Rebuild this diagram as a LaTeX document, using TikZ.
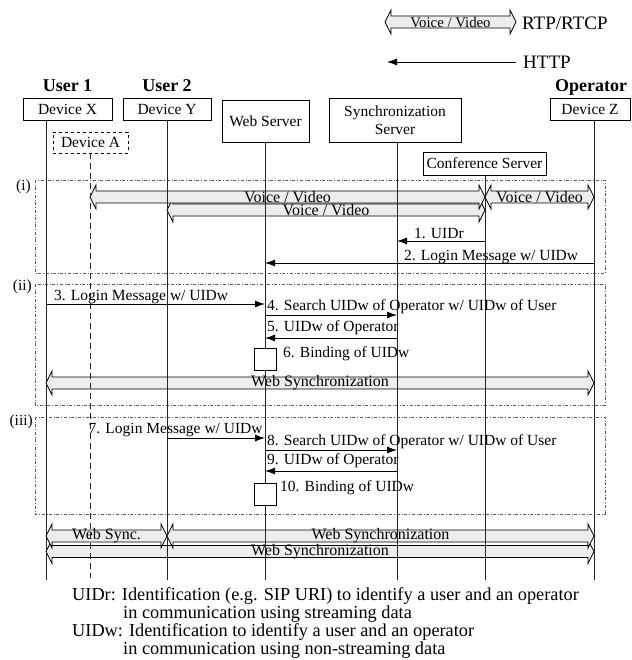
\documentclass[tikz,border=0pt]{standalone}
\usepackage{fontspec}
\setmainfont{Liberation Serif}
\usetikzlibrary{arrows.meta,calc}
\pgfdeclarelayer{bg}
\pgfsetlayers{bg,main}
\newcommand\lblfont{\fontsize{15.5}{18.6}\selectfont}
\newcommand\fatarr[4]{%
  \begin{pgfonlayer}{bg}
  \path[fatbody] let \p1=(#1), \p2=(#2) in
    (\x1,-#3pt) -- (\x1+6pt,-#3pt+12pt) -- (\x1+6pt,-#3pt+6pt) -- (\x2-6pt,-#3pt+6pt)
    -- (\x2-6pt,-#3pt+12pt) -- (\x2,-#3pt) -- (\x2-6pt,-#3pt-12pt) -- (\x2-6pt,-#3pt-6pt)
    -- (\x1+6pt,-#3pt-6pt) -- (\x1+6pt,-#3pt-12pt) -- cycle;
  \end{pgfonlayer}
  \path let \p1=(#1), \p2=(#2) in ({(\x1+\x2)/2},-#3pt) node[fatlabel] {#4};%
}
\begin{document}
\begin{tikzpicture}[x=1pt,y=-1pt,
  box/.style={draw, line width=0.8pt, fill=white, inner sep=0pt, font=\lblfont, align=center},
  life/.style={line width=0.9pt, draw=black!85},
  msg/.style={line width=0.9pt, -{Latex[length=10pt,width=7pt]}},
  fatbody/.style={draw, line width=0.7pt, fill=black!7},
  fatlabel/.style={inner sep=0pt, font=\fontsize{16}{18}\selectfont},
  sect/.style={draw=black!65, dash dot, line width=0.7pt},
  lbl/.style={inner sep=0pt, font=\lblfont},
  hdr/.style={inner sep=0pt, font=\bfseries\fontsize{18}{20}\selectfont},
  legend/.style={inner sep=0pt, font=\fontsize{19}{21}\selectfont},
  note/.style={inner sep=0pt, font=\fontsize{18.3}{20}\selectfont},
  proc/.style={draw, fill=white, line width=0.8pt, minimum size=22pt, inner sep=0pt}]
\useasboundingbox (0,0) rectangle (631,660);

% legend
\coordinate (lg1) at (385,22);
\coordinate (lg2) at (516,22);
\fatarr{lg1}{lg2}{22}{\fontsize{14.8}{16}\selectfont Voice / Video}
\node[legend, anchor=base west] (rtp) at (522,30) {RTP/RTCP};
\coordinate (h1) at (516,62);
\coordinate (h2) at (387,62);
\draw[msg] (h1) -- (h2);
\node[legend, anchor=base west] (http) at (523,68.5) {HTTP};

% headers
\node[hdr, anchor=base] (u1) at (67.5,92) {User 1};
\node[hdr, anchor=base] (u2) at (167,92) {User 2};
\node[hdr, anchor=base] (op) at (591,92) {Operator};

% boxes
\node[box, minimum width=89pt, minimum height=22pt] (devX) at (67.5,109) {Device X};
\node[box, minimum width=88pt, minimum height=22pt] (devY) at (167,109) {Device Y};
\node[box, minimum width=87pt, minimum height=42pt] (web) at (265.5,121) {Web Server};
\node[box, minimum width=132pt, minimum height=44pt] (sync) at (395,120) {Synchronization\\Server};
\node[box, minimum width=80pt, minimum height=22pt] (devZ) at (590,109) {Device Z};
\node[box, dashed, minimum width=75pt, minimum height=21pt] (devA) at (90.5,142.5) {Device A};
\node[box, minimum width=123pt, minimum height=23pt] (conf) at (484.5,163.5) {Conference Server};

% lifeline tops
\coordinate (lX) at (46,120);
\coordinate (lA) at (90,153);
\coordinate (lY) at (167,120);
\coordinate (lW) at (265,142);
\coordinate (lS) at (397,142);
\coordinate (lC) at (485,175);
\coordinate (lZ) at (594,120);

% section frames
\begin{pgfonlayer}{bg}
\draw[sect] (35,180) rectangle (605,273);
\draw[sect] (35,284) rectangle (605,405);
\draw[sect] (35,417) rectangle (605,514);
\end{pgfonlayer}
\node[lbl, anchor=east] (si) at (31,187) {(i)};
\node[lbl, anchor=east] (sii) at (32,287) {(ii)};
\node[lbl, anchor=east] (siii) at (33,422) {(iii)};

% streaming arrows (i)
\fatarr{lY}{lC}{210}{Voice / Video}
\fatarr{lA}{lC}{197}{Voice / Video}
\fatarr{lC}{lZ}{197}{Voice / Video}

% web sync arrows
\fatarr{lX}{lZ}{383}{Web Synchronization}
\fatarr{lX}{lZ}{551.5}{Web Synchronization}
\fatarr{lX}{lY}{536}{Web Sync.}
\fatarr{lY}{lZ}{536}{Web Synchronization}

% lifelines
\draw[life] (lX) -- (lX |- 0,580);
\draw[life] (lY) -- (lY |- 0,580);
\draw[life] (lW) -- (lW |- 0,580);
\draw[life] (lS) -- (lS |- 0,580);
\draw[life] (lC) -- (lC |- 0,580);
\draw[life] (lZ) -- (lZ |- 0,580);
\draw[life, dash pattern=on 6pt off 4pt] (lA) -- (lA |- 0,578);

% (i) messages
\draw[msg] (lC |- 0,241) -- (lS |- 0,241);
\node[lbl, anchor=base west] (m1) at (414,238) {1. UIDr};
\draw[msg] (lZ |- 0,263) -- (lW |- 0,263);
\node[lbl, anchor=base west] (m2) at (404,260) {2. Login Message w/ UIDw};

% (ii)
\draw[msg] (lX |- 0,304) -- (lW |- 0,304);
\node[lbl, anchor=base west] (m3) at (54,300) {3. Login Message w/ UIDw};
\draw[msg] (lW |- 0,315) -- (lS |- 0,315);
\node[lbl, anchor=base west] (m4) at (267,310) {4. Search UIDw of Operator w/ UIDw of User};
\draw[msg] (lS |- 0,338) -- (lW |- 0,338);
\node[lbl, anchor=base west] (m5) at (267,331) {5. UIDw of Operator};
\node[proc] (b6) at (lW |- 0,359) {};
\node[lbl, anchor=base west] (m6) at (283,357) {6. Binding of UIDw};

% (iii)
\draw[msg] (lY |- 0,438) -- (lW |- 0,438);
\node[lbl, anchor=base west] (m7) at (88.5,433) {7. Login Message w/ UIDw};
\draw[msg] (lW |- 0,450) -- (lS |- 0,450);
\node[lbl, anchor=base west] (m8) at (267,445) {8. Search UIDw of Operator w/ UIDw of User};
\draw[msg] (lS |- 0,471) -- (lW |- 0,471);
\node[lbl, anchor=base west] (m9) at (267,464.5) {9. UIDw of Operator};
\node[proc] (b10) at (lW |- 0,494) {};
\node[lbl, anchor=base west] (m10) at (280,491.5) {10. Binding of UIDw};

% notes
\node[note, anchor=base west] (n1) at (72,600.5) {UIDr: Identification (e.g. SIP URI) to identify a user and an operator};
\node[note, anchor=base west] (n2) at (123,618) {in communication using streaming data};
\node[note, anchor=base west] (n3) at (72,636) {UIDw: Identification to identify a user and an operator};
\node[note, anchor=base west] (n4) at (123,654) {in communication using non-streaming data};
\end{tikzpicture}
\end{document}
